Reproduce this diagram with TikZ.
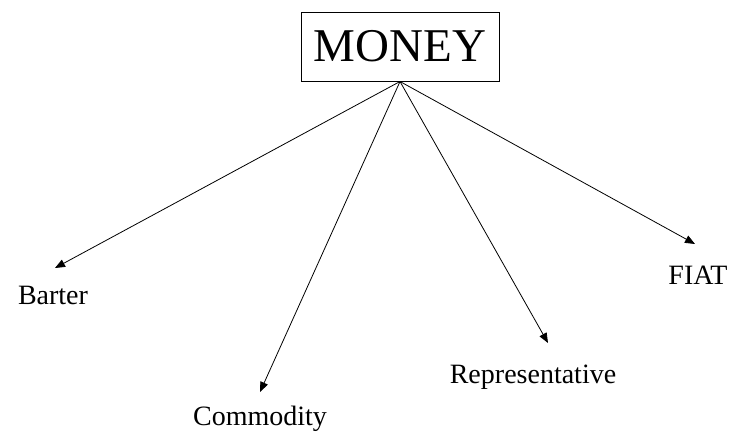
\documentclass[tikz,border=0pt]{standalone}
\usepackage{fontspec}
\setmainfont{Liberation Serif}
\usetikzlibrary{arrows.meta}
\begin{document}
\begin{tikzpicture}[x=1pt,y=-1pt,
  title/.style={draw, line width=1pt, minimum width=198pt, minimum height=69pt,
    inner sep=0pt, font=\fontsize{47}{50}\selectfont},
  leaf/.style={anchor=base, inner sep=0pt, font=\fontsize{28}{30}\selectfont},
  link/.style={line width=0.8pt, -{Triangle[length=10pt,width=8pt]}}]
  \useasboundingbox (0,0) rectangle (731,432);
  % root box
  \node[title] (money) at (400,46.5) {MONEY};
  % leaf labels
  \node[leaf] (barter) at (53,304) {Barter};
  \node[leaf] (commodity) at (260,425) {Commodity};
  \node[leaf] (repr) at (533,383) {Representative};
  \node[leaf] (fiat) at (698,284) {FIAT};
  % arrow end points just above each label
  \coordinate (tb) at (55,268);
  \coordinate (tc) at (260,392);
  \coordinate (tr) at (548,343);
  \coordinate (tf) at (695,244);
  \foreach \t in {tb,tc,tr,tf}
    \draw[link] (money.south) -- (\t);
\end{tikzpicture}
\end{document}
